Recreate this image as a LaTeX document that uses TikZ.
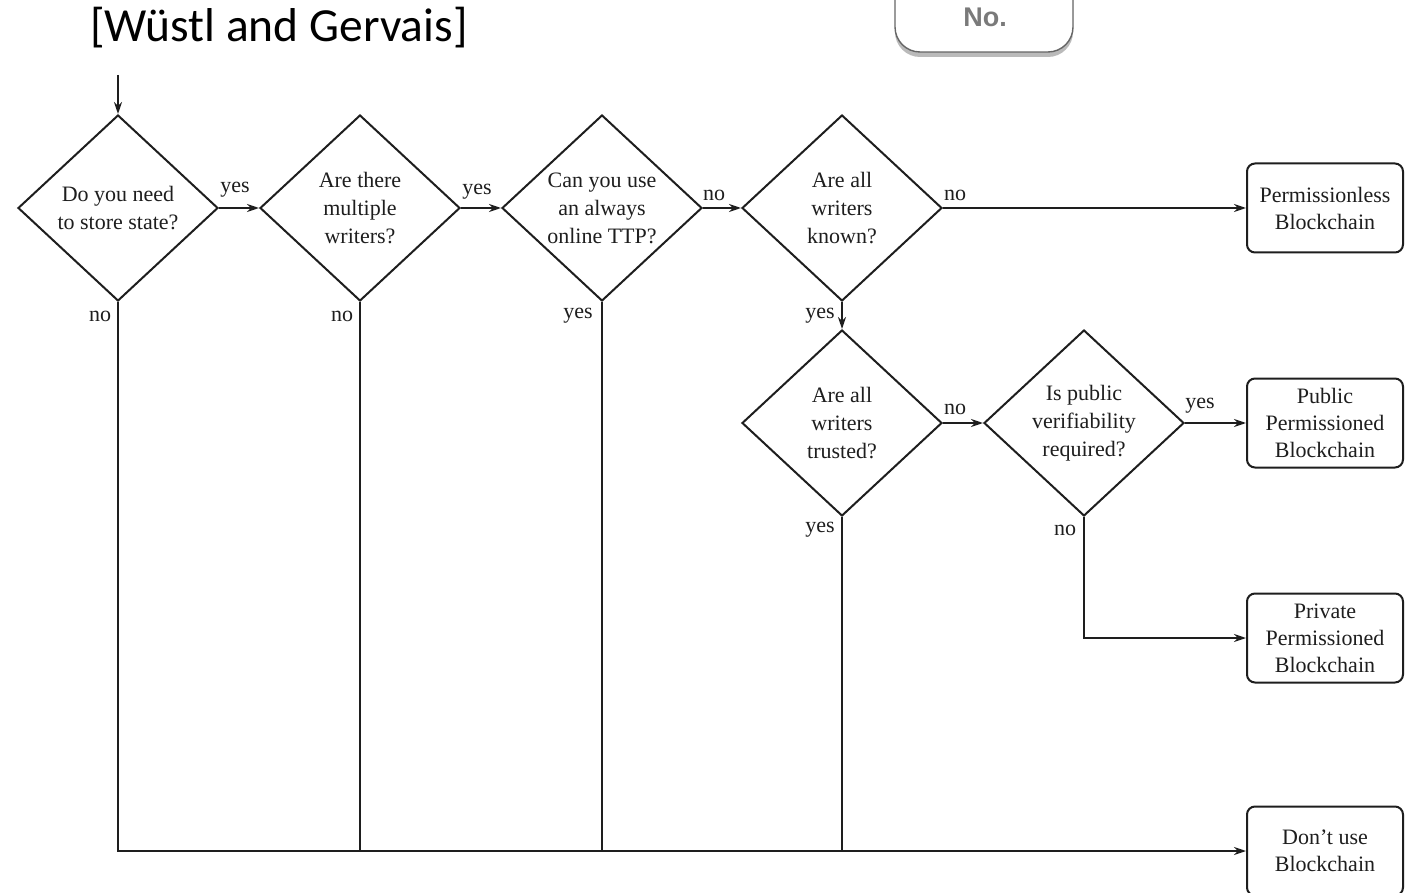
\documentclass[tikz,border=0pt]{standalone}
\usepackage{fontspec}
\setmainfont{Liberation Serif}
\newfontfamily\titlefont{Carlito}
\newfontfamily\notefont{Liberation Sans}
\usetikzlibrary{shapes.geometric,arrows.meta,shadows}
\definecolor{ink}{HTML}{1E1E1E}
\definecolor{notegray}{HTML}{7A7A7A}
\begin{document}
\begin{tikzpicture}[x=1pt,y=-1pt,
  line/.style={draw=ink,line width=2pt},
  arr/.style={line,-{Stealth[length=12pt,width=8pt]}},
  txt/.style={font=\fontsize{22}{28}\selectfont,align=center,text=ink,inner sep=0pt},
  lab/.style={font=\fontsize{22}{24}\selectfont,text=ink,inner sep=0pt},
  dia/.style={diamond,draw=ink,line width=2pt,minimum width=200pt,
    minimum height=186pt,inner sep=0pt},
  endbox/.style={draw=ink,line width=2pt,rounded corners=8pt,
    minimum width=156pt,minimum height=89pt,inner sep=0pt,
    font=\fontsize{22}{27}\selectfont,align=center,text=ink},
  nobox/.style={draw=black!60,line width=1.4pt,rounded corners=25pt,fill=white,
    minimum width=178pt,minimum height=94pt,
    drop shadow={shadow xshift=0pt,shadow yshift=-5pt,fill=black!60,opacity=0.45}},
]
\useasboundingbox (0,0) rectangle (1414,893);
\clip (0,0) rectangle (1414,893);
\fill[white] (0,0) rectangle (1414,893);

% heading and the small callout
\node[anchor=base west,inner sep=0pt,font=\titlefont\fontsize{47.5}{50}\selectfont]
  (title) at (90,42) {[Wüstl and Gervais]};
\node[nobox] (nobox) at (984,5) {};
\node[font=\notefont\bfseries\fontsize{27}{30}\selectfont,text=notegray,inner sep=0pt]
  (notxt) at (985,17) {No.};

% decisions
\coordinate (start) at (118,75);
\node[dia,label={[txt]center:Do you need\\to store state?}] (d1) at (118,208) {};
\node[dia,label={[txt]center:Are there\\multiple\\writers?}] (d2) at (360,208) {};
\node[dia,label={[txt]center:Can you use\\an always\\online TTP?}] (d3) at (602,208) {};
\node[dia,label={[txt]center:Are all\\writers\\known?}] (d4) at (842,208) {};
\node[dia,label={[txt]center:Are all\\writers\\trusted?}] (d5) at (842,423) {};
\node[dia,label={[txt]center:Is public\\verifiability\\required?}] (d6) at (1084,423) {};

% outcomes
\node[endbox] (b1) at (1325,208) {Permissionless\\Blockchain};
\node[endbox] (b2) at (1325,423) {Public\\Permissioned\\Blockchain};
\node[endbox] (b3) at (1325,638) {Private\\Permissioned\\Blockchain};
\node[endbox] (b4) at (1325,851) {Don’t use\\Blockchain};

% connectors
\draw[arr] (start) -- (d1.north);
\draw[arr] (d1.east) -- (d2.west);
\draw[arr] (d2.east) -- (d3.west);
\draw[arr] (d3.east) -- (d4.west);
\draw[arr] (d4.east) -- (b1.west);
\draw[arr] (d4.south) -- (d5.north);
\draw[arr] (d5.east) -- (d6.west);
\draw[arr] (d6.east) -- (b2.west);
\draw[arr] (d6.south) |- (b3.west);
\draw[arr] (d1.south) |- (b4.west);
\draw[line] (d2.south) -- (d2.south |- b4.west);
\draw[line] (d3.south) -- (d3.south |- b4.west);
\draw[line] (d5.south) -- (d5.south |- b4.west);

% branch labels
\node[lab] (l1) at (235,190) {yes};
\node[lab] (l2) at (477,192) {yes};
\node[lab] (l3) at (714,195) {no};
\node[lab] (l4) at (955,195) {no};
\node[lab] (l5) at (100,316) {no};
\node[lab] (l6) at (342,316) {no};
\node[lab] (l7) at (578,316) {yes};
\node[lab] (l8) at (820,316) {yes};
\node[lab] (l9) at (955,409) {no};
\node[lab] (l10) at (1200,406) {yes};
\node[lab] (l11) at (820,530) {yes};
\node[lab] (l12) at (1065,530) {no};
\end{tikzpicture}
\end{document}
